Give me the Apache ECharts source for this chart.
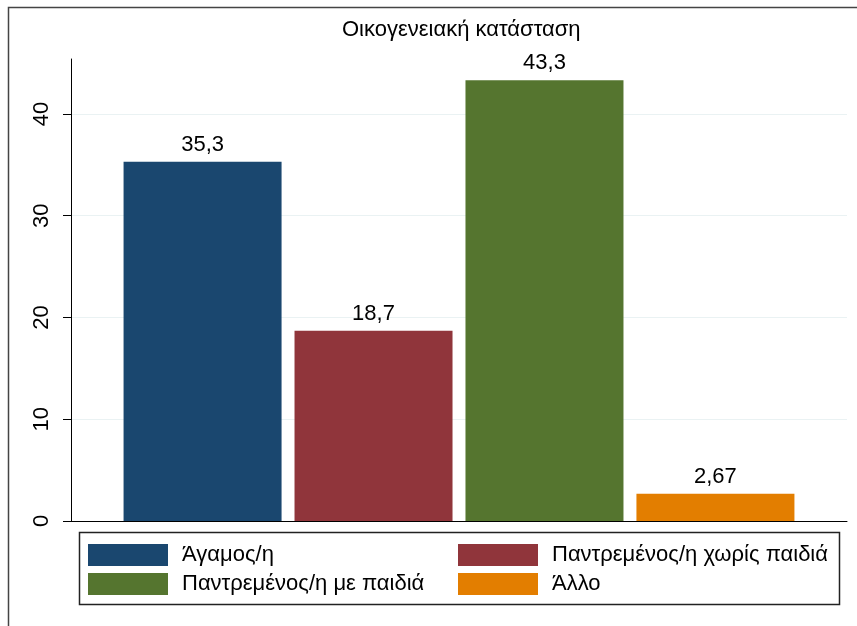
<!DOCTYPE html>
<html>
<head>
<meta charset="utf-8">
<script src="https://cdn.jsdelivr.net/npm/echarts@6/dist/echarts.min.js"></script>
<style>
  html, body { margin: 0; padding: 0; background: #fff; }
  #chart { width: 857px; height: 626px; }
</style>
</head>
<body>
<div id="chart"></div>
<script>
const title = 'Οικογενειακή κατάσταση'
const categories = ['Άγαμος/η', 'Παντρεμένος/η χωρίς παιδιά', 'Παντρεμένος/η με παιδιά', 'Άλλο']
const values = [35.3, 18.7, 43.3, 2.67]
const colors = ['#1a476f', '#90353b', '#55752f', '#e37e00']
const yTicks = [0, 10, 20, 30, 40]

const font = "'Liberation Sans', Arial, sans-serif"
const chart = echarts.init(document.getElementById('chart'))

const series = categories.map((name, i) => ({
  name,
  type: 'bar',
  data: [values[i]],
  barWidth: 158,
  barGap: '8.2%',
  itemStyle: { color: colors[i] },
  label: {
    show: true,
    position: 'top',
    distance: 6,
    color: '#000',
    fontFamily: font,
    fontSize: 22,
    formatter: p => String(p.value).replace('.', ',')
  }
}))

const legendText = { color: '#000', fontFamily: font, fontSize: 22, padding: [0, 0, 0, 9] }

chart.setOption({
  animation: false,
  backgroundColor: '#fff',
  title: {
    text: title,
    left: 337,
    top: 14,
    textStyle: { color: '#000', fontFamily: font, fontSize: 22, fontWeight: 'normal' }
  },
  grid: { left: 71, right: 10, top: 59, bottom: 105 },
  xAxis: {
    type: 'category',
    data: [''],
    axisLine: { lineStyle: { color: '#000', width: 1 } },
    axisTick: { show: false },
    axisLabel: { show: false }
  },
  yAxis: {
    type: 'value',
    min: 0,
    max: 45.4,
    interval: 10,
    axisLine: { show: true, lineStyle: { color: '#000', width: 1 } },
    axisTick: { show: true, length: 8, customValues: yTicks, lineStyle: { color: '#000' } },
    axisLabel: {
      customValues: yTicks,
      rotate: 90,
      margin: 18,
      color: '#000',
      fontFamily: font,
      fontSize: 22
    },
    splitLine: { show: true, lineStyle: { color: '#eaf2f3', width: 1 } }
  },
  legend: [
    {
      data: [categories[0], categories[2]],
      orient: 'vertical',
      left: 83,
      top: 539,
      padding: 5,
      itemWidth: 80,
      itemHeight: 22,
      itemGap: 7,
      icon: 'rect',
      selectedMode: false,
      textStyle: legendText
    },
    {
      data: [categories[1], categories[3]],
      orient: 'vertical',
      left: 453,
      top: 539,
      padding: 5,
      itemWidth: 80,
      itemHeight: 22,
      itemGap: 7,
      icon: 'rect',
      selectedMode: false,
      textStyle: legendText
    }
  ],
  graphic: [
    {
      type: 'rect',
      shape: { x: 79.5, y: 532.5, width: 760, height: 72 },
      style: { fill: 'none', stroke: '#222', lineWidth: 1.5 },
      silent: true
    },
    {
      type: 'polyline',
      shape: { points: [[8.5, 626], [8.5, 7.5], [857, 7.5]] },
      style: { fill: 'none', stroke: '#444', lineWidth: 1.5 },
      silent: true
    }
  ],
  series
})
</script>
</body>
</html>
